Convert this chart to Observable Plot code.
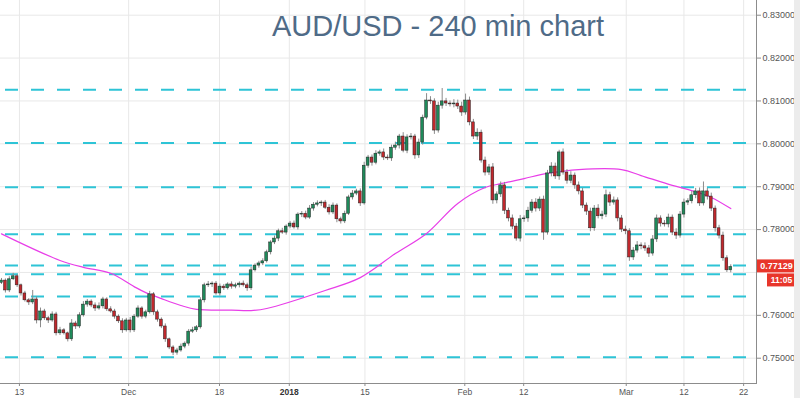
<!DOCTYPE html>
<html><head><meta charset="utf-8">
<script src="https://cdn.jsdelivr.net/npm/d3@7"></script>
<script src="https://cdn.jsdelivr.net/npm/@observablehq/plot@0.6"></script>
<style>
body{margin:0;background:#fff;}
#wrap{position:relative;width:800px;height:398px;overflow:hidden;}
#strip{position:absolute;left:794px;top:0;width:6px;height:398px;background:#ececec;}
</style></head><body><div id="wrap"><div id="strip"></div></div>
<script>
// ---- data (AUD/USD, one candle ~ half a trading day) ----
const open0 = 0.7676;
const closes = [
.7681,.7658,.7684,.7691,.7670,.7651,.7635,.7630,.7637,.7588,
.7609,.7593,.7588,.7602,.7558,.7565,.7558,.7544,.7581,.7574,
.7600,.7625,.7632,.7623,.7616,.7621,.7637,.7614,.7609,.7597,
.7586,.7565,.7588,.7565,.7597,.7616,.7597,.7607,.7649,.7607,
.7590,.7574,.7544,.7525,.7513,.7518,.7527,.7534,.7562,.7565,
.7572,.7635,.7670,.7672,.7674,.7651,.7667,.7663,.7672,.7667,
.7670,.7674,.7670,.7663,.7705,.7716,.7721,.7726,.7747,.7770,
.7779,.7796,.7793,.7807,.7814,.7805,.7835,.7837,.7828,.7849,
.7858,.7861,.7863,.7851,.7840,.7856,.7824,.7819,.7837,.7875,
.7884,.7889,.7861,.7949,.7968,.7956,.7977,.7980,.7968,.7966,
.7991,.7996,.8017,.7984,.8015,.8017,.7973,.8003,.8061,.8101,
.8099,.8031,.8089,.8099,.8094,.8092,.8094,.8087,.8073,.8101,
.8050,.8017,.8026,.7961,.7933,.7945,.7868,.7882,.7903,.7844,
.7826,.7807,.7779,.7824,.7826,.7844,.7863,.7849,.7870,.7793,
.7931,.7947,.7924,.7980,.7933,.7914,.7926,.7903,.7889,.7856,
.7842,.7803,.7849,.7831,.7835,.7880,.7863,.7868,.7826,.7800,
.7796,.7735,.7751,.7763,.7761,.7756,.7744,.7777,.7826,.7814,
.7812,.7828,.7793,.7786,.7835,.7863,.7866,.7880,.7889,.7861,
.7889,.7877,.7849,.7803,.7786,.7733,.7705,.77129
];
// wick lengths in pips above the body / below the body
const upperWickPips = [
5,4,6,7,4,3,5,4,21,6, 8,5,4,6,5,7,4,3,9,5, 6,7,5,4,6,8,5,4,6,5, 4,6,5,7,5,6,4,5,7,4,
5,4,6,3,4,5,6,4,5,7, 4,6,5,7,4,5,6,5,4,6, 5,4,6,5,7,4,5,6,5,4, 6,5,7,4,5,6,4,5,6,7,
5,6,4,5,7,6,4,5,6,5, 7,5,6,8,5,6,7,5,8,6, 6,8,5,9,6,7,5,8,6,16, 9,6,8,30,7,6,9,8,10,15,
8,7,9,6,8,7,9,6,8,7, 6,8,7,9,6,8,7,9,6,8, 7,9,8,5,8,7,9,6,8,7, 6,8,7,9,8,12,7,8,6,7,
8,6,7,9,6,8,7,9,8,6, 7,8,6,9,7,8,6,9,7,8, 22,7,8,6,7,8,6,5
];
const lowerWickPips = [
4,6,5,3,5,6,4,7,5,8, 17,5,7,4,6,5,4,6,5,7, 5,4,6,5,7,4,6,5,4,6, 5,7,4,6,5,4,6,5,4,7,
6,5,7,5,7,6,4,5,6,4, 5,4,6,5,7,4,6,5,4,6, 5,6,4,7,5,4,6,5,4,6, 5,7,4,6,5,4,6,7,5,4,
6,5,7,4,6,5,8,6,5,4, 6,5,7,4,6,8,5,6,7,5, 7,6,8,5,7,6,9,7,6,5, 7,9,6,8,7,6,8,7,9,6,
8,7,9,6,8,7,9,8,7,9, 8,7,6,8,7,9,6,8,7,18, 6,8,7,9,6,8,7,9,8,7, 9,8,7,6,8,7,9,6,8,7,
8,9,7,6,8,7,9,6,7,8, 6,8,7,9,6,8,7,6,8,7, 6,8,7,9,8,7,5,6
];
// moving average (magenta) read at candle positions
const maIndex = [0,15,21,28,34,37,41,46,50,59,64,68,83,92,101,109,117,124,128,134,140,148,159,164,172,177,182,187];
const maValue = [.7790,.7728,.7712,.7698,.7667,.7653,.7639,.7623,.7614,.7612,.7611,.7616,.7658,.7688,.7744,.7791,.7861,.7898,.7907,.7919,.7931,.7940,.7940,.7926,.7903,.7891,.7875,.7849];
// horizontal support / resistance levels (dashed cyan)
const levels = [0.8126,0.8002,0.7899,0.7789,0.7716,0.7696,0.7644,0.7502];
// axis ticks
const xTickPos = [4.6,32.6,55.9,73.8,93.2,118.8,133.9,160.2,175.0,190.3];
const xTickLabels = ["13","Dec","18","2018","15","Feb","12","Mar","12","22"];
const yTicks = [0.75,0.76,0.77,0.78,0.79,0.80,0.81,0.82,0.83];
const lastPrice = 0.77129;
const countdown = "11:05";
const title = "AUD/USD - 240 min chart";

// ---- build ----
const candles = closes.map((c, i) => {
  const o = i === 0 ? open0 : closes[i - 1];
  return {i, open: o, close: c,
    high: Math.max(o, c) + upperWickPips[i] * 1e-4,
    low: Math.min(o, c) - lowerWickPips[i] * 1e-4,
    up: c >= o};
});
const ma = maIndex.map((x, k) => ({x, y: maValue[k]}));
const labelOf = new Map(xTickPos.map((p, k) => [p, xTickLabels[k]]));
// the tick label hidden behind the last-price tag in the reference is not drawn
const yLabelTicks = yTicks.filter(v => Math.abs(v - lastPrice) > 0.003);

const W = 800, H = 398, mR = 44, mB = 15;
const chart = Plot.plot({
  width: W, height: H,
  marginLeft: 0, marginRight: mR, marginTop: 0, marginBottom: mB,
  style: {fontFamily: "'Liberation Sans', Arial, sans-serif", background: "#fff"},
  x: {domain: [-0.256, 193.6], axis: null},
  y: {domain: [0.7441, 0.83343], axis: null},
  marks: [
    Plot.gridX(xTickPos, {stroke: "#e8e8e8", strokeOpacity: 1}),
    Plot.gridY(yTicks, {stroke: "#e8e8e8", strokeOpacity: 1}),
    Plot.ruleY(levels, {stroke: "#2ec4d6", strokeWidth: 2, strokeDasharray: "13,13", strokeDashoffset: 21}),
    Plot.line(ma, {x: "x", y: "y", stroke: "#e83ee8", strokeWidth: 1.2, curve: "catmull-rom"}),
    Plot.ruleX(candles, {x: "i", y1: "low", y2: "high", stroke: "#8a8a8a", strokeWidth: 1, clip: true}),
    Plot.rect(candles, {x1: d => d.i - 0.36, x2: d => d.i + 0.36, y1: "open", y2: "close",
      fill: d => d.up ? "#1f8a5a" : "#c0282d", stroke: "#222", strokeWidth: 0.5, clip: true}),
    Plot.frame({anchor: "right", stroke: "#8c8c8c"}),
    Plot.frame({anchor: "bottom", stroke: "#8c8c8c"}),
    Plot.axisY(yLabelTicks, {anchor: "right", tickFormat: d3.format(".5f"), tickSize: 4, tickPadding: 2,
      fontSize: 9, fill: "#555", stroke: "#8c8c8c"}),
    Plot.axisX(xTickPos, {anchor: "bottom", tickFormat: d => labelOf.get(d), tickSize: 3, tickPadding: 2,
      fontSize: 8.5, fill: "#555", stroke: "#8c8c8c"})
  ]
});
document.getElementById("wrap").prepend(chart);

// style "2018"
const svg = d3.select(chart);
svg.selectAll("text").filter(function(){ return this.textContent === "2018"; })
  .attr("font-weight", "bold").attr("fill", "#333");

// title
svg.append("text").attr("x", 438).attr("y", 36).attr("text-anchor", "middle")
  .attr("font-size", 29).attr("fill", "#4f6b87")
  .attr("font-family", "'Liberation Sans', Arial, sans-serif").text(title);

// last price label + countdown
const yPix = chart.scale("y").apply(lastPrice);
const xAxis = W - mR;
const g = svg.append("g").attr("font-family", "'Liberation Sans', Arial, sans-serif")
  .attr("font-size", 9).attr("font-weight", "bold").attr("fill", "#fff");
g.append("rect").attr("x", xAxis + 1).attr("y", yPix - 7).attr("width", 39).attr("height", 13).attr("fill", "#e8362b");
g.append("text").attr("x", xAxis + 20.5).attr("y", yPix + 2.5).attr("text-anchor", "middle").text(d3.format(".5f")(lastPrice));
g.append("rect").attr("x", xAxis + 11).attr("y", yPix + 7).attr("width", 29).attr("height", 13).attr("fill", "#e8362b");
g.append("text").attr("x", xAxis + 25.5).attr("y", yPix + 17).attr("text-anchor", "middle").attr("font-size", 8.5).text(countdown);
</script></body></html>
